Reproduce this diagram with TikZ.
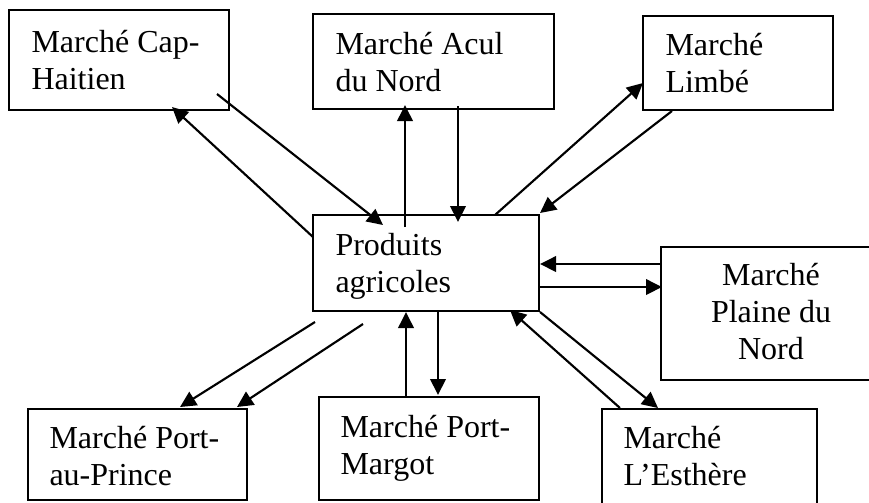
\documentclass[tikz,border=0pt]{standalone}
\usepackage{fontspec}
\setmainfont{Liberation Serif}
\usetikzlibrary{arrows.meta}
\begin{document}
\begin{tikzpicture}[x=0.375pt,y=-0.375pt,
  box/.style={draw,line width=0.75pt},
  lbl/.style={inner sep=0pt,anchor=base west,font=\fontsize{12}{13.9}\selectfont},
  lblc/.style={inner sep=0pt,anchor=base,font=\fontsize{12}{13.9}\selectfont},
  arr/.style={line width=0.8pt,-{Triangle[length=6pt,width=5.8pt]}}]
\useasboundingbox (0,0) rectangle (869,502);

% boxes
\draw[box] (9,10) rectangle (229,110);
\draw[box] (313,14) rectangle (554,109);
\draw[box] (643,16) rectangle (833,110);
\draw[box] (313,215) rectangle (539,311);
\draw[box] (880,247) -- (661,247) -- (661,380) -- (880,380);
\draw[box] (28,409) rectangle (247,500);
\draw[box] (319,397) rectangle (539,500);
\draw[box] (602,515) -- (602,409) -- (817,409) -- (817,515);

% texts
\node[lbl] (cap) at (31,52) {\begin{tabular}[t]{@{}l@{}}Marché Cap-\\Haitien\end{tabular}};
\node[lbl] (acul) at (335,54) {\begin{tabular}[t]{@{}l@{}}Marché Acul\\du Nord\end{tabular}};
\node[lbl] (limbe) at (665,55) {\begin{tabular}[t]{@{}l@{}}Marché\\Limbé\end{tabular}};
\node[lbl] (prod) at (335,255) {\begin{tabular}[t]{@{}l@{}}Produits\\agricoles\end{tabular}};
\node[lblc] (plaine) at (771,285) {\begin{tabular}[t]{@{}c@{}}Marché\\Plaine du\\Nord\end{tabular}};
\node[lbl] (pap) at (49,448) {\begin{tabular}[t]{@{}l@{}}Marché Port-\\au-Prince\end{tabular}};
\node[lbl] (pm) at (340,437) {\begin{tabular}[t]{@{}l@{}}Marché Port-\\Margot\end{tabular}};
\node[lbl] (est) at (623,448) {\begin{tabular}[t]{@{}l@{}}Marché\\L’Esthère\end{tabular}};

% connector end points
\coordinate (c1a) at (217,94);  \coordinate (c1b) at (383,225);
\coordinate (c2a) at (313,237); \coordinate (c2b) at (172,107);
\coordinate (c3a) at (405,227); \coordinate (c3b) at (405,105);
\coordinate (c4a) at (458,106); \coordinate (c4b) at (458,222);
\coordinate (c5a) at (495,215); \coordinate (c5b) at (643,83);
\coordinate (c6a) at (672,111); \coordinate (c6b) at (540,213);
\coordinate (c7a) at (660,264); \coordinate (c7b) at (540,264);
\coordinate (c8a) at (539,287); \coordinate (c8b) at (662,287);
\coordinate (c9a) at (315,322); \coordinate (c9b) at (180,407);
\coordinate (c10a) at (363,324); \coordinate (c10b) at (237,407);
\coordinate (c11a) at (406,397); \coordinate (c11b) at (406,312);
\coordinate (c12a) at (438,310); \coordinate (c12b) at (438,395);
\coordinate (c13a) at (540,312); \coordinate (c13b) at (658,408);
\coordinate (c14a) at (620,408); \coordinate (c14b) at (510,310);

\foreach \i in {1,...,14} {\draw[arr] (c\i a) -- (c\i b);}
\end{tikzpicture}
\end{document}
